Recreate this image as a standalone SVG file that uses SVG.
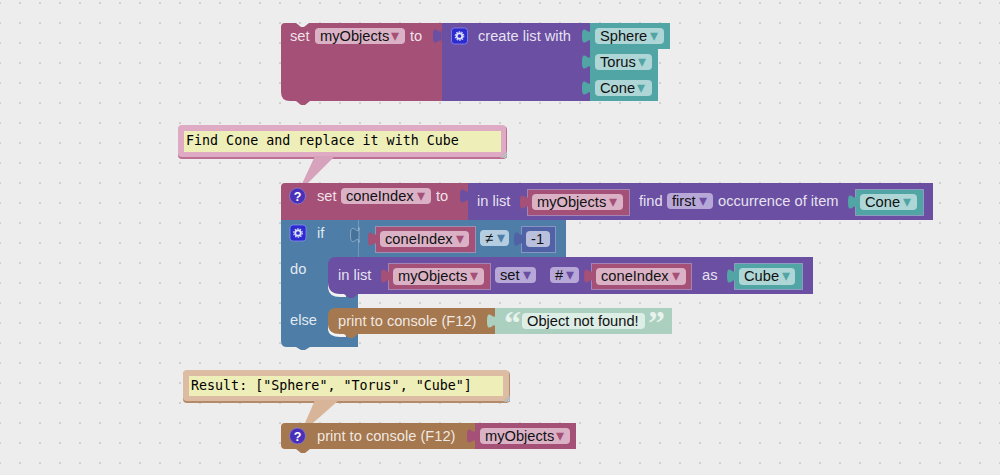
<svg xmlns="http://www.w3.org/2000/svg" width="1000" height="475" viewBox="0 0 1000 475">
<style>
text{font-family:"Liberation Sans",Arial,"DejaVu Sans",sans-serif;font-size:14.67px}
.w{fill:#fff;fill-opacity:.85}
.d{fill:#111}
.a{font-family:"DejaVu Sans",sans-serif;font-size:16px}
.m{font-family:"DejaVu Sans Mono",monospace;font-size:13.33px;fill:#000}
.var{fill:#a55076}.lst{fill:#6b4fa3}.tl{fill:#52a5a5}.ctl{fill:#4e7ea8}.txt{fill:#a5784f}.str{fill:#abd0c0}.num{fill:#5061a5}
.fvar{fill:#dbb1c6}.flst{fill:#b7a8d8}.ftl{fill:#aed6d6}.fctl{fill:#b4cde0}.fstr{fill:#ddeee6}.fnum{fill:#b9c0dd}
.avar{fill:#a55076}.alst{fill:#6b4fa3}.atl{fill:#52a5a5}.actl{fill:#4e7ea8}
.edge{stroke:#c9c4e4;stroke-opacity:.45;stroke-width:1}
.cm1{fill:#dfaac4}.cm1b{fill:#bd6f92}
.cm2{fill:#dcbca2}.cm2b{fill:#b58a68}
.note{fill:#eeeeb8}
.crescent{fill:#f2f2f2}
</style>
<defs>
<pattern id="grid" x="10" y="-7" width="20" height="20" patternUnits="userSpaceOnUse">
<path d="M9,10h2M10,9v2" stroke="#c6c6c6" stroke-width="1" fill="none"/>
</pattern>
<path id="tab" d="M0.500,7.500c0,-10 -8.500,8 -8.500,-7.500s8.500,2.500 8.500,-7.500Z"/>
<g id="gear"><rect x="-8" y="-8" width="16" height="16" rx="3" fill="#2b2bd0" stroke="#8a8af0" stroke-width=".8"/><circle r="2.8" fill="none" stroke="#dfe0fa" stroke-width="1.9"/><circle r="4.3" fill="none" stroke="#dfe0fa" stroke-width="1.1" stroke-dasharray="1.5 1.2"/></g>
<g id="help"><circle r="8" fill="#4a30b8" stroke="#8d80cc" stroke-width=".8"/><text y="4.600" text-anchor="middle" style="font-size:12.500px;font-weight:bold" fill="#fff">?</text></g>
<g id="resize"><path d="M0,0H7V-7Z" fill="#a9a9a9"/><path d="M2,-.5L6.500,-5M4.500,-.5L6.500,-2.500" stroke="#e8e8e8" stroke-width=".8"/></g>
</defs>
<rect width="1000" height="475" fill="#ededed"/>
<rect width="1000" height="475" fill="url(#grid)"/>

<g id="set-myObjects">
<path class="var" d="M285,23H296L301,27H304L309,23H442V101H310L305,105H301L296,101H290Q281,101 281,92V27Q281,23 285,23Z"/>
<text class="w" x="290" y="41">set</text>
<rect class="fvar" x="315" y="28" width="90" height="16" rx="4"/>
<text class="d" x="320" y="41">myObjects</text><text class="a avar" x="391" y="41">▾</text>
<text class="w" x="410" y="41">to</text>
</g>
<g id="create-list">
<rect class="lst" x="442" y="23" width="148" height="78"/>
<use href="#tab" class="lst" x="441" y="36"/>
<use href="#gear" x="459.500" y="36"/>
<text class="w" x="478" y="41">create list with</text>
</g>
<g id="value-sphere">
<rect class="tl" x="590" y="23" width="80" height="26"/>
<use href="#tab" class="tl" x="590" y="36"/>
<rect class="ftl" x="595" y="28" width="69" height="16" rx="4"/>
<text class="d" x="600" y="41">Sphere</text><text class="a atl" x="650" y="41">▾</text>
</g>
<g id="value-torus">
<rect class="tl" x="590" y="49" width="68" height="26"/>
<use href="#tab" class="tl" x="590" y="62"/>
<rect class="ftl" x="595" y="54" width="57" height="16" rx="4"/>
<text class="d" x="600" y="67">Torus</text><text class="a atl" x="638" y="67">▾</text>
</g>
<g id="value-cone-1">
<rect class="tl" x="590" y="75" width="68" height="26"/>
<use href="#tab" class="tl" x="590" y="88"/>
<rect class="ftl" x="595" y="80" width="57" height="16" rx="4"/>
<text class="d" x="600" y="93">Cone</text><text class="a atl" x="637" y="93">▾</text>
</g>

<g id="comment-1">
<rect class="cm1b" x="178" y="126" width="329" height="33" rx="4"/>
<rect class="cm1" x="178" y="125" width="328" height="32" rx="4"/>
<path d="M315,156H335L303,188H300Z" fill="#d7a3bc"/>
<rect class="note" x="184" y="131" width="317" height="21"/>
<text class="m" x="186" y="145">Find Cone and replace it with Cube</text>
<use href="#resize" x="500" y="158"/>
</g>

<g id="set-coneIndex">
<path class="var" d="M285,183H468V220H310L305,224H301L296,220H281V187Q281,183 285,183Z"/>
<use href="#help" x="297.500" y="196"/>
<text class="w" x="317" y="201">set</text>
<rect class="fvar" x="341" y="188" width="90" height="16" rx="4"/>
<text class="d" x="346" y="201">coneIndex</text><text class="a avar" x="417" y="201">▾</text>
<text class="w" x="436" y="201">to</text>
</g>
<g id="find-in-list">
<rect class="lst" x="468" y="183" width="465" height="37"/>
<use href="#tab" class="lst" x="468" y="196"/>
<text class="w" x="477" y="206">in list</text>
<text class="w" x="639" y="206">find</text>
<rect class="flst" x="667" y="193" width="46" height="16" rx="4"/>
<text class="d" x="672" y="206">first</text><text class="a alst" x="699" y="206">▾</text>
<text class="w" x="718" y="206">occurrence of item</text>
</g>
<g id="var-myObjects-1">
<rect class="var edge" x="527.500" y="189.500" width="102" height="26"/>
<use href="#tab" class="var" x="528" y="202"/>
<rect class="fvar" x="532" y="194" width="91" height="16" rx="4"/>
<text class="d" x="537" y="207">myObjects</text><text class="a avar" x="609" y="207">▾</text>
</g>
<g id="value-cone-2">
<rect class="tl edge" x="855.500" y="189.500" width="68" height="26"/>
<use href="#tab" class="tl" x="856" y="202"/>
<rect class="ftl" x="860" y="194" width="57" height="16" rx="4"/>
<text class="d" x="865" y="207">Cone</text><text class="a atl" x="903" y="207">▾</text>
</g>

<g id="if-else">
<path class="ctl" d="M281,220H566V257H358V347H310L305,350H301L296,347H287Q281,347 281,341Z"/>
<path d="M358.500,220V257" stroke="#fff" stroke-opacity=".2"/>
<use href="#tab" x="358.500" y="235" fill="#46729a" stroke="#c8d8e6" stroke-opacity=".5"/>
<use href="#gear" x="298" y="233"/>
<text class="w" x="317" y="238">if</text>
<text class="w" x="290" y="274">do</text>
<text class="w" x="290" y="325">else</text>
</g>
<g id="compare">
<rect class="var edge" x="375.500" y="226.500" width="100" height="26"/>
<use href="#tab" class="var" x="376" y="239"/>
<rect class="fvar" x="380" y="231" width="89" height="16" rx="4"/>
<text class="d" x="385" y="244">coneIndex</text><text class="a avar" x="456" y="244">▾</text>
<rect class="fctl" x="480" y="230" width="29" height="16" rx="4"/>
<text class="d" x="485" y="243">≠</text><text class="a actl" x="497" y="243">▾</text>
</g>
<g id="number">
<rect class="num edge" x="521.500" y="226.500" width="34" height="26"/>
<use href="#tab" class="num" x="522" y="239"/>
<rect class="fnum" x="526" y="231" width="24" height="16" rx="4"/>
<text class="d" x="531" y="244">-1</text>
</g>

<g id="list-set">
<path class="crescent" d="M328,280V288Q329,297 340,297H346V286H332Z"/>
<path class="lst" d="M336,257H813V294H358L353,298H349L344,294H340Q328,294 328,282V265Q328,257 336,257Z"/>
<text class="w" x="338" y="280">in list</text>
<rect class="flst" x="495" y="267" width="41" height="16" rx="4"/>
<text class="d" x="500" y="280">set</text><text class="a alst" x="523" y="280">▾</text>
<rect class="flst" x="550" y="267" width="29" height="16" rx="4"/>
<text class="d" x="555" y="280">#</text><text class="a alst" x="566" y="280">▾</text>
<text class="w" x="702" y="280">as</text>
</g>
<g id="var-myObjects-2">
<rect class="var edge" x="388.500" y="263.500" width="102" height="26"/>
<use href="#tab" class="var" x="389" y="276"/>
<rect class="fvar" x="393" y="268" width="91" height="17" rx="4"/>
<text class="d" x="398" y="281">myObjects</text><text class="a avar" x="470" y="281">▾</text>
</g>
<g id="var-coneIndex">
<rect class="var edge" x="591.500" y="263.500" width="100" height="26"/>
<use href="#tab" class="var" x="592" y="276"/>
<rect class="fvar" x="596" y="268" width="90" height="17" rx="4"/>
<text class="d" x="601" y="281">coneIndex</text><text class="a avar" x="672" y="281">▾</text>
</g>
<g id="value-cube">
<rect class="tl edge" x="734.500" y="263.500" width="68" height="26"/>
<use href="#tab" class="tl" x="735" y="276"/>
<rect class="ftl" x="739" y="268" width="56" height="17" rx="4"/>
<text class="d" x="744" y="281">Cube</text><text class="a atl" x="782" y="281">▾</text>
</g>

<g id="print-else">
<path class="crescent" d="M328,322V330Q329,337 340,337H346V328H332Z"/>
<path class="txt" d="M336,308H495V334H358L353,338H349L344,334H340Q328,334 328,324V316Q328,308 336,308Z"/>
<text class="w" x="338" y="326">print to console (F12)</text>
</g>
<g id="string">
<rect class="str" x="495" y="308" width="177" height="26"/>
<use href="#tab" class="str" x="495" y="321"/>
<text x="504" y="334" fill="#e8f3ee" style="font-family:'Liberation Serif',serif;font-size:34px;font-weight:bold">“</text>
<rect class="fstr" x="522" y="313" width="123" height="16" rx="4"/>
<text class="d" x="527" y="326">Object not found!</text>
<text x="648" y="334" fill="#e8f3ee" style="font-family:'Liberation Serif',serif;font-size:34px;font-weight:bold">”</text>
</g>

<g id="comment-2">
<rect class="cm2b" x="183" y="371" width="327" height="32" rx="4"/>
<rect class="cm2" x="183" y="370" width="326" height="31" rx="4"/>
<path d="M315,400H339L305,430H302Z" fill="#d8b498"/>
<rect class="note" x="189" y="376" width="314" height="20"/>
<text class="m" x="191" y="390">Result: ["Sphere", "Torus", "Cube"]</text>
<use href="#resize" x="503" y="402"/>
</g>

<g id="print-result">
<path class="txt" d="M285,423H475V449H310L305,453H301L296,449H285Q281,449 281,445V427Q281,423 285,423Z"/>
<use href="#help" x="297.500" y="436"/>
<text class="w" x="317" y="441">print to console (F12)</text>
</g>
<g id="var-myObjects-3">
<rect class="var" x="475" y="423" width="101" height="26"/>
<use href="#tab" class="var" x="475" y="436"/>
<rect class="fvar" x="480" y="428" width="90" height="16" rx="4"/>
<text class="d" x="485" y="441">myObjects</text><text class="a avar" x="556" y="441">▾</text>
</g>
</svg>
